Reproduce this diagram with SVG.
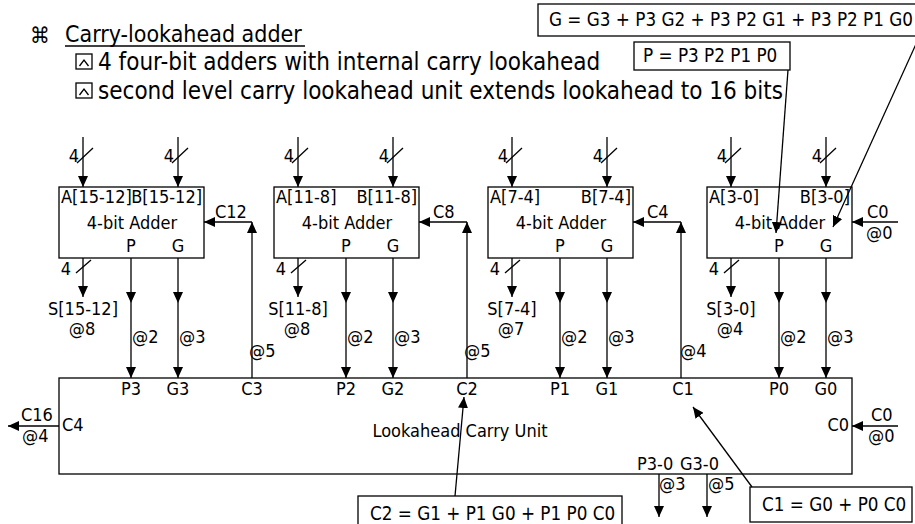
<svg xmlns="http://www.w3.org/2000/svg" width="915" height="524" viewBox="0 0 915 524">
<defs>
<marker id="ah" markerUnits="userSpaceOnUse" markerWidth="11" markerHeight="10" refX="11" refY="5" orient="auto">
<path d="M0,0 L11,5 L0,10 z" fill="#000"/>
</marker>
<style>
.t{font-family:"DejaVu Sans Condensed","DejaVu Sans",sans-serif;font-stretch:condensed;font-size:18px;fill:#000}
.h{font-size:24px}
.f{font-size:18.7px}
.m{text-anchor:middle}
.e{text-anchor:end}
.box{fill:#fff;stroke:#000;stroke-width:1.3}
.ln{stroke:#000;stroke-width:1.3;fill:none}
.ic{stroke:#000;stroke-width:1.3;fill:none}
.a{marker-end:url(#ah)}
.am{marker-mid:url(#ah);marker-end:url(#ah)}
</style>
</defs>
<rect width="915" height="524" fill="#fff"/>

<g id="header">
<text class="t" x="30" y="43" style="font-size:22px">⌘</text>
<text class="t" x="65" y="42" style="font-size:23px">Carry-lookahead adder</text>
<line class="ln" x1="65" y1="46" x2="305" y2="46"/>
<rect class="ic" x="76" y="54" width="16" height="15"/>
<polyline class="ic" points="79.5,66 84,60 88.5,66"/>
<text class="t h" x="98" y="70">4 four-bit adders with internal carry lookahead</text>
<rect class="ic" x="76" y="83" width="16" height="15"/>
<polyline class="ic" points="79.5,95 84,89 88.5,95"/>
<text class="t h" x="98" y="99">second level carry lookahead unit extends lookahead to 16 bits</text>
</g>

<g id="formulaG">
<rect class="box" x="538" y="4" width="385" height="32"/>
<text class="t f" x="549" y="26">G = G3 + P3 G2 + P3 P2 G1 + P3 P2 P1 G0</text>
</g>
<g id="formulaP">
<rect class="box" x="634" y="42" width="156" height="28"/>
<text class="t f" x="643" y="62">P = P3 P2 P1 P0</text>
</g>

<g id="adder3">
<rect class="box" x="59" y="187" width="145" height="71"/>
<text class="t" x="61" y="203">A[15-12]</text>
<text class="t e" x="202" y="203">B[15-12]</text>
<text class="t m" x="132" y="229">4-bit Adder</text>
<text class="t m" x="131" y="252">P</text>
<text class="t m" x="178" y="252">G</text>
</g>
<g id="adder2">
<rect class="box" x="274" y="187" width="145" height="71"/>
<text class="t" x="276" y="203">A[11-8]</text>
<text class="t e" x="417" y="203">B[11-8]</text>
<text class="t m" x="347" y="229">4-bit Adder</text>
<text class="t m" x="346" y="252">P</text>
<text class="t m" x="393" y="252">G</text>
</g>
<g id="adder1">
<rect class="box" x="488" y="187" width="145" height="71"/>
<text class="t" x="490" y="203">A[7-4]</text>
<text class="t e" x="631" y="203">B[7-4]</text>
<text class="t m" x="561" y="229">4-bit Adder</text>
<text class="t m" x="560" y="252">P</text>
<text class="t m" x="607" y="252">G</text>
</g>
<g id="adder0">
<rect class="box" x="707" y="187" width="145" height="71"/>
<text class="t" x="709" y="203">A[3-0]</text>
<text class="t e" x="850" y="203">B[3-0]</text>
<text class="t m" x="780" y="229">4-bit Adder</text>
<text class="t m" x="779" y="252">P</text>
<text class="t m" x="826" y="252">G</text>
</g>

<g id="lcu">
<rect class="box" x="59" y="378" width="793" height="96"/>
<text class="t m" x="131" y="395">P3</text>
<text class="t m" x="178" y="395">G3</text>
<text class="t m" x="252" y="395">C3</text>
<text class="t m" x="346" y="395">P2</text>
<text class="t m" x="393" y="395">G2</text>
<text class="t m" x="467" y="395">C2</text>
<text class="t m" x="560" y="395">P1</text>
<text class="t m" x="607" y="395">G1</text>
<text class="t m" x="683" y="395">C1</text>
<text class="t m" x="779" y="395">P0</text>
<text class="t m" x="826" y="395">G0</text>
<text class="t" x="62" y="431">C4</text>
<text class="t e" x="849" y="431">C0</text>
<text class="t m" x="460" y="437">Lookahead Carry Unit</text>
<text class="t" x="637" y="470">P3-0</text>
<text class="t" x="680" y="470">G3-0</text>
</g>

<g id="formulaC2">
<rect class="box" x="358" y="496" width="264" height="40"/>
<text class="t f" x="370" y="520">C2 = G1 + P1 G0 + P1 P0 C0</text>
</g>
<g id="formulaC1">
<rect class="box" x="750" y="487" width="162" height="35"/>
<text class="t f" x="762" y="511">C1 = G0 + P0 C0</text>
</g>

<g id="connectors">
<line class="ln a" x1="83" y1="137" x2="83" y2="187"/>
<line class="ln a" x1="178" y1="137" x2="178" y2="187"/>
<line class="ln a" x1="298" y1="137" x2="298" y2="187"/>
<line class="ln a" x1="393" y1="137" x2="393" y2="187"/>
<line class="ln a" x1="512" y1="137" x2="512" y2="187"/>
<line class="ln a" x1="607" y1="137" x2="607" y2="187"/>
<line class="ln a" x1="731" y1="137" x2="731" y2="187"/>
<line class="ln a" x1="826" y1="137" x2="826" y2="187"/>
<g class="ln">
<line x1="77" y1="163" x2="93" y2="148"/>
<line x1="172" y1="163" x2="188" y2="148"/>
<line x1="292" y1="163" x2="308" y2="148"/>
<line x1="387" y1="163" x2="403" y2="148"/>
<line x1="506" y1="163" x2="522" y2="148"/>
<line x1="601" y1="163" x2="617" y2="148"/>
<line x1="725" y1="163" x2="741" y2="148"/>
<line x1="820" y1="163" x2="836" y2="148"/>
</g>
<text class="t e" x="79" y="162">4</text>
<text class="t e" x="174" y="162">4</text>
<text class="t e" x="294" y="162">4</text>
<text class="t e" x="389" y="162">4</text>
<text class="t e" x="508" y="162">4</text>
<text class="t e" x="603" y="162">4</text>
<text class="t e" x="727" y="162">4</text>
<text class="t e" x="822" y="162">4</text>

<line class="ln a" x1="83" y1="258" x2="83" y2="297"/>
<line class="ln a" x1="298" y1="258" x2="298" y2="297"/>
<line class="ln a" x1="512" y1="258" x2="512" y2="297"/>
<line class="ln a" x1="731" y1="258" x2="731" y2="297"/>
<g class="ln">
<line x1="76" y1="273" x2="91" y2="260"/>
<line x1="291" y1="273" x2="306" y2="260"/>
<line x1="505" y1="273" x2="520" y2="260"/>
<line x1="724" y1="273" x2="739" y2="260"/>
</g>
<text class="t e" x="71" y="275">4</text>
<text class="t e" x="286" y="275">4</text>
<text class="t e" x="500" y="275">4</text>
<text class="t e" x="719" y="275">4</text>
<text class="t m" x="83" y="315">S[15-12]</text>
<text class="t m" x="82" y="335">@8</text>
<text class="t m" x="298" y="315">S[11-8]</text>
<text class="t m" x="297" y="335">@8</text>
<text class="t m" x="512" y="315">S[7-4]</text>
<text class="t m" x="511" y="335">@7</text>
<text class="t m" x="731" y="315">S[3-0]</text>
<text class="t m" x="730" y="335">@4</text>

<path class="ln am" d="M131 258 V303 V378"/>
<path class="ln am" d="M178 258 V303 V378"/>
<path class="ln am" d="M346 258 V303 V378"/>
<path class="ln am" d="M393 258 V303 V378"/>
<path class="ln am" d="M560 258 V303 V378"/>
<path class="ln am" d="M607 258 V303 V378"/>
<path class="ln am" d="M779 258 V303 V378"/>
<path class="ln am" d="M826 258 V303 V378"/>
<text class="t" x="132" y="343">@2</text>
<text class="t" x="179" y="343">@3</text>
<text class="t" x="347" y="343">@2</text>
<text class="t" x="394" y="343">@3</text>
<text class="t" x="561" y="343">@2</text>
<text class="t" x="608" y="343">@3</text>
<text class="t" x="780" y="343">@2</text>
<text class="t" x="827" y="343">@3</text>

<line class="ln a" x1="252" y1="378" x2="252" y2="222"/>
<line class="ln a" x1="252" y1="222" x2="204" y2="222"/>
<line class="ln a" x1="467" y1="378" x2="467" y2="222"/>
<line class="ln a" x1="467" y1="222" x2="419" y2="222"/>
<line class="ln a" x1="681" y1="378" x2="681" y2="222"/>
<line class="ln a" x1="681" y1="222" x2="633" y2="222"/>
<line class="ln a" x1="898" y1="222" x2="852" y2="222"/>
<text class="t" x="215" y="218">C12</text>
<text class="t" x="433" y="218">C8</text>
<text class="t" x="647" y="218">C4</text>
<text class="t" x="867" y="218">C0</text>
<text class="t" x="866" y="239">@0</text>
<text class="t" x="249" y="357">@5</text>
<text class="t" x="464" y="357">@5</text>
<text class="t" x="680" y="357">@4</text>

<line class="ln a" x1="59" y1="426" x2="8" y2="426"/>
<text class="t" x="21" y="421">C16</text>
<text class="t" x="22" y="442">@4</text>
<line class="ln a" x1="898" y1="426" x2="852" y2="426"/>
<text class="t" x="871" y="421">C0</text>
<text class="t" x="868" y="442">@0</text>

<line class="ln a" x1="659" y1="474" x2="659" y2="517"/>
<line class="ln a" x1="707" y1="474" x2="707" y2="517"/>
<text class="t" x="659" y="490">@3</text>
<text class="t" x="708" y="490">@5</text>

<line class="ln a" x1="788" y1="70" x2="776" y2="233"/>
<line class="ln a" x1="921" y1="33" x2="833" y2="227"/>
<line class="ln a" x1="455" y1="496" x2="464" y2="397"/>
<line class="ln a" x1="752" y1="487" x2="693" y2="407"/>
</g>
</svg>
